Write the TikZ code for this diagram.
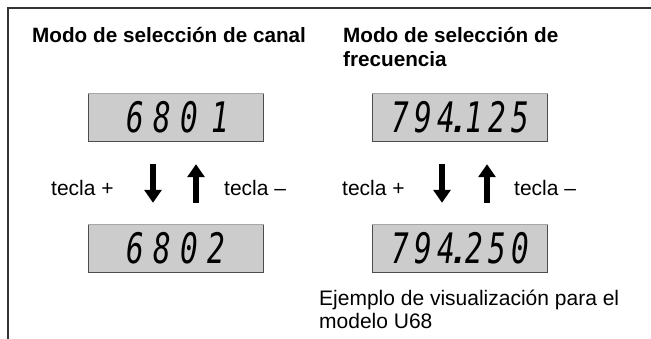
\documentclass[tikz,border=0pt]{standalone}
\usepackage{fontspec}
\setmainfont{Liberation Sans}
\newfontfamily\lcdfont{DejaVu Sans Mono}
\usetikzlibrary{arrows.meta}
\usepackage{xcolor}
\usepackage{graphicx}

% one digit cell of the LCD read-out
\newcommand{\dg}[1]{\makebox[27pt][c]{\scalebox{0.7}[1]{#1}}}
\newcommand{\fg}[1]{\makebox[23pt][c]{\scalebox{0.7}[1]{#1}}}
\newcommand{\dt}{\makebox[5pt][c]{.}}

\tikzset{
  lbl/.style={inner sep=0pt, anchor=base west, font=\fontsize{21}{23}\selectfont},
  hdr/.style={inner sep=0pt, anchor=base west, align=left,
    font=\fontsize{20.7}{24.5}\selectfont\bfseries},
  lcd/.style={fill=gray!40, minimum width=175pt, minimum height=48pt, inner sep=0pt,
    font=\lcdfont\itshape\fontsize{42}{42}\selectfont},
  lcdrim/.style={draw=black!70, line width=1pt},
  keyarrow/.style={line width=5.5pt, -{Triangle[length=13pt,width=17pt]}}
}

\begin{document}
\begin{tikzpicture}[x=1pt,y=-1pt]
\useasboundingbox (0,0) rectangle (651,338);
% frame, open to the right and below
\draw[black!80, line width=1.8pt] (8,340) -- (8,8) -- (655,8);

% headings
\node[hdr] (hcanal) at (32,42) {Modo de selección de canal};
\node[hdr] (hfrec) at (343,66.5) {Modo de selección de\\frecuencia};

% channel displays
\node[lcd] (c1) at (176,117) {\dg{6}\dg{8}\dg{0}\dg{\hspace{10pt}1}};
\node[lcd] (c2) at (176,248) {\dg{6}\dg{8}\dg{0}\dg{2}};
% frequency displays
\node[lcd] (f1) at (460,117) {\fg{7}\fg{9}\fg{4}\dt\fg{1}\fg{2}\fg{5}};
\node[lcd] (f2) at (460,248) {\fg{7}\fg{9}\fg{4}\dt\fg{2}\fg{5}\fg{0}};
\foreach \d in {c1,c2,f1,f2} {
  \draw[lcdrim] (\d.north west) -- (\d.south west) -- (\d.south east) -- (\d.north east);
  \draw[gray!70, line width=.6pt] (\d.north west) -- (\d.north east);
}

% keys between the displays
\draw[keyarrow, shorten <=23pt, shorten >=21pt] ([xshift=-23pt]c1.south) -- ([xshift=-23pt]c2.north);
\draw[keyarrow, shorten <=21pt, shorten >=23pt] ([xshift=20pt]c2.north) -- ([xshift=20pt]c1.south);
\draw[keyarrow, shorten <=23pt, shorten >=21pt] ([xshift=-18pt]f1.south) -- ([xshift=-18pt]f2.north);
\draw[keyarrow, shorten <=21pt, shorten >=23pt] ([xshift=27pt]f2.north) -- ([xshift=27pt]f1.south);

\node[lbl] (cplus) at (51,195) {tecla +};
\node[lbl] (cminus) at (224,195) {tecla –};
\node[lbl] (fplus) at (342,195) {tecla +};
\node[lbl] (fminus) at (514,195) {tecla –};

% note under the frequency displays
\node[lbl, align=left] (nota) at (319,328) {Ejemplo de visualización para el\\modelo U68};
\end{tikzpicture}
\end{document}
